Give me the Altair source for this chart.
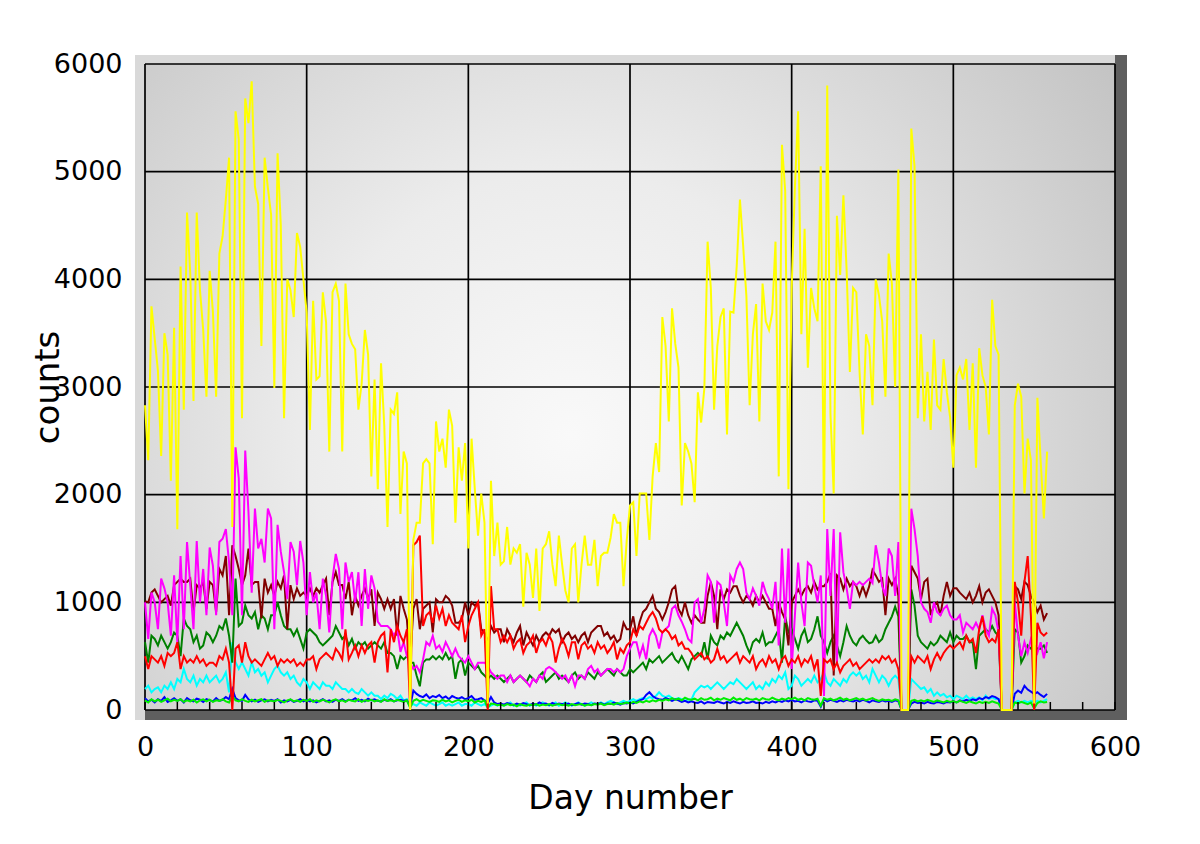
import altair as alt
import pandas as pd

# ---------------- data (one value every 2 days) ----------------
days = list(range(0, 560, 2))

yellow = [
    2830, 2320, 3750, 3450, 3150, 2360, 3500, 3300, 2130, 3550,
    1680, 4120, 2790, 4620, 4050, 2870, 4620, 3900, 3530, 2910,
    4080, 3700, 2910, 4240, 4400, 4740, 5130, 1700, 5560, 5300,
    2710, 5680, 5450, 5840, 4860, 4700, 3380, 5130, 4850, 4600,
    2990, 5170, 4500, 2710, 4000, 3900, 3650, 4430, 4300, 4000,
    3690, 2600, 3800, 3070, 3100, 3880, 3600, 2400, 3880, 3960,
    3800, 2400, 3960, 3490, 3400, 3350, 2790, 3030, 3530, 3300,
    2170, 3070, 2050, 3220, 2640, 1700, 2790, 2750, 2950, 1820,
    2400, 2290, 0, 1580, 1740, 1740, 2290, 2330, 2290, 1540,
    2680, 2400, 2520, 2250, 2790, 2640, 1740, 2440, 2130, 2480,
    1500, 2520, 2050, 1620, 2010, 1740, 60, 2130, 1430, 1740,
    1350, 1380, 1700, 1350, 1500, 1460, 1540, 960, 1460, 1350,
    1040, 1500, 920, 1500, 1540, 1660, 1350, 1150, 1620, 1350,
    1110, 1000, 1500, 1540, 1000, 1350, 1620, 1350, 1350, 1580,
    1150, 1430, 1460, 1460, 1600, 1820, 1740, 1740, 1150, 1580,
    1900, 1930, 1430, 2010, 2010, 2010, 1580, 2170, 2480, 2210,
    3650, 3380, 2680, 3730, 3400, 3180, 1900, 2480, 2400, 2290,
    1930, 2950, 2670, 2990, 4350, 3920, 2790, 3380, 3650, 3730,
    2560, 3700, 3690, 4120, 4740, 4310, 3840, 2830, 3490, 3770,
    2680, 3960, 3610, 3530, 3690, 4350, 2170, 5250, 4820, 2050,
    3920, 4860, 5560, 3490, 4470, 3180, 3920, 3730, 3610, 5050,
    1740, 5800, 2750, 2010, 4590, 4040, 4780, 4080, 3140, 3920,
    3880, 3140, 2560, 3490, 3380, 2830, 4000, 3850, 3610, 2910,
    4240, 3960, 3000, 5020, 0, 0, 0, 5400, 5050, 2710,
    3490, 2680, 3140, 2600, 3440, 2830, 2790, 3260, 2950, 2720,
    2250, 3110, 3180, 3070, 3260, 2600, 3220, 2250, 3360, 3110,
    3000, 2560, 3810, 3380, 3300, 0, 0, 0, 0, 2830,
    3030, 2910, 2010, 2520, 2320, 60, 2900, 2320, 1780, 2400,
]

magenta = [
    1000, 660, 1090, 1000, 750, 1220, 1130, 1000, 690, 1250,
    630, 1430, 750, 1560, 1160, 750, 1570, 1000, 1310, 880,
    1510, 1340, 880, 1560, 1590, 1680, 1370, 880, 2440, 2150,
    880, 2410, 1840, 1090, 1870, 1500, 1590, 1370, 1870, 1780,
    750, 1720, 1470, 1280, 1030, 1560, 1470, 1160, 1570, 1370,
    880, 1280, 1000, 1090, 750, 1220, 1060, 720, 1220, 1450,
    1310, 750, 1370, 1190, 1280, 1000, 1280, 780, 1310, 940,
    1250, 1130, 820, 780, 780, 780, 750, 690, 750, 540,
    630, 500, 440, 380, 410, 350, 470, 630, 600, 690,
    570, 600, 540, 630, 570, 500, 570, 500, 470, 440,
    500, 440, 380, 440, 440, 440, 410, 350, 320, 290,
    320, 320, 260, 320, 260, 290, 320, 290, 260, 220,
    290, 260, 320, 290, 380, 400, 380, 350, 320, 290,
    320, 260, 320, 220, 320, 320, 290, 380, 410, 350,
    380, 320, 350, 380, 380, 350, 380, 350, 380, 500,
    570, 630, 630, 500, 600, 470, 690, 750, 690, 570,
    720, 750, 780, 940, 970, 880, 820, 750, 660, 630,
    1000, 1030, 810, 940, 1250, 1190, 810, 1190, 1160, 1000,
    780, 1250, 1190, 1310, 1370, 1310, 1090, 1030, 1130, 1060,
    970, 1190, 1090, 1030, 940, 1190, 600, 1500, 810, 1500,
    380, 880, 1370, 1000, 780, 1370, 1340, 1150, 1000, 1250,
    130, 1680, 1060, 1680, 440, 1650, 1280, 1130, 940, 1190,
    1160, 1190, 1160, 1190, 1220, 1180, 1530, 1370, 1150, 1060,
    1500, 1430, 1060, 1560, 0, 0, 0, 1870, 1680, 1430,
    1000, 940, 910, 810, 1000, 910, 880, 940, 970, 880,
    840, 840, 880, 720, 810, 780, 750, 810, 750, 880,
    750, 690, 940, 880, 720, 0, 0, 0, 0, 1000,
    690, 500, 630, 530, 660, 600, 530, 630, 480, 630,
]

maroon = [
    1010, 1000, 1090, 1120, 1060, 1000, 1030, 1060, 970, 1160,
    1190, 1220, 1190, 1190, 1220, 910, 1160, 1130, 1190, 940,
    1190, 1160, 910, 1310, 1250, 1430, 880, 1530, 1430, 1310,
    1160, 1250, 1500, 1160, 1190, 1190, 850, 1220, 1090, 1160,
    1060, 1190, 1130, 1250, 750, 1160, 1030, 1130, 1060, 1090,
    1060, 1130, 1060, 1130, 1090, 1160, 1220, 880, 1190, 1280,
    1160, 1160, 1030, 1190, 880, 1060, 970, 1060, 1130, 1030,
    1120, 780, 1090, 1030, 940, 1030, 940, 1030, 690, 1060,
    940, 840, 440, 940, 1030, 750, 940, 970, 1000, 720,
    1030, 1000, 1000, 1060, 1030, 970, 810, 810, 840, 1000,
    880, 1000, 970, 1000, 750, 720, 630, 780, 720, 750,
    750, 630, 750, 690, 630, 720, 780, 600, 720, 660,
    600, 690, 630, 690, 720, 690, 750, 720, 750, 630,
    690, 720, 660, 690, 630, 690, 720, 630, 720, 750,
    780, 780, 690, 720, 660, 690, 630, 660, 810, 750,
    750, 870, 690, 820, 910, 940, 1000, 1060, 940, 910,
    840, 910, 1000, 1120, 1150, 940, 880, 1000, 880, 810,
    880, 840, 810, 810, 1060, 1190, 1060, 750, 1120, 1030,
    1120, 1090, 1150, 1150, 1060, 1000, 1060, 1030, 970, 1060,
    1000, 1060, 1000, 940, 940, 780, 1000, 910, 840, 600,
    1000, 1060, 1120, 1060, 1120, 1150, 1090, 1190, 1120, 1150,
    1150, 1190, 1270, 320, 1250, 1220, 1120, 1220, 1150, 1190,
    1150, 1060, 1150, 1060, 1150, 1300, 1250, 1190, 1220, 880,
    1220, 1160, 1220, 1060, 0, 0, 0, 1340, 1280, 1220,
    1030, 1190, 1220, 880, 970, 1000, 880, 1060, 1190, 1060,
    1130, 1130, 1090, 1060, 1030, 1090, 1000, 1060, 1150, 1000,
    1090, 1120, 1060, 1000, 880, 0, 0, 0, 0, 1150,
    1120, 1030, 1190, 1160, 1060, 1000, 910, 970, 840, 900,
]

green = [
    630, 440, 690, 660, 600, 690, 630, 570, 630, 720,
    690, 500, 850, 780, 750, 630, 690, 570, 600, 720,
    690, 630, 690, 780, 750, 850, 690, 440, 1220, 780,
    810, 970, 880, 850, 910, 750, 880, 850, 750, 880,
    880, 1000, 880, 780, 750, 750, 690, 750, 660, 570,
    720, 750, 720, 690, 630, 600, 630, 660, 690, 780,
    720, 660, 690, 600, 660, 570, 630, 600, 630, 570,
    600, 630, 600, 570, 630, 530, 530, 500, 380, 500,
    470, 500, 440, 440, 320, 220, 440, 470, 470, 500,
    470, 500, 470, 530, 470, 500, 290, 440, 470, 320,
    440, 410, 380, 410, 350, 320, 290, 320, 290, 320,
    290, 260, 290, 320, 260, 290, 320, 290, 260, 320,
    290, 260, 320, 350, 260, 290, 320, 350, 290, 320,
    290, 260, 320, 350, 290, 320, 290, 350, 320, 290,
    350, 320, 350, 380, 350, 320, 380, 350, 320, 320,
    380, 350, 380, 410, 440, 380, 470, 440, 470, 500,
    440, 470, 500, 530, 470, 440, 500, 440, 380, 470,
    500, 530, 500, 630, 470, 690, 630, 600, 690, 660,
    720, 690, 750, 810, 750, 690, 600, 530, 630, 660,
    630, 720, 600, 630, 630, 690, 750, 440, 870, 720,
    750, 660, 570, 690, 750, 630, 660, 750, 870, 690,
    630, 530, 630, 690, 600, 500, 630, 780, 690, 630,
    600, 660, 690, 650, 620, 630, 690, 630, 660, 750,
    810, 870, 960, 870, 0, 0, 0, 1120, 970, 690,
    630, 600, 570, 630, 600, 630, 690, 660, 630, 720,
    630, 690, 660, 660, 690, 630, 630, 380, 690, 720,
    750, 720, 780, 720, 690, 0, 0, 0, 0, 750,
    720, 440, 500, 600, 570, 600, 570, 570, 600, 530,
]

red = [
    500, 380, 500, 470, 440, 500, 410, 530, 500, 530,
    630, 380, 500, 440, 470, 440, 500, 440, 470, 410,
    440, 440, 410, 500, 470, 570, 440, 0, 570, 600,
    440, 630, 500, 440, 470, 440, 410, 470, 530, 470,
    500, 410, 470, 440, 470, 440, 470, 410, 440, 410,
    470, 470, 500, 380, 470, 500, 530, 500, 470, 570,
    530, 470, 750, 470, 530, 600, 500, 600, 530, 600,
    630, 440, 630, 690, 720, 350, 750, 630, 780, 690,
    630, 750, 0, 1530, 1560, 1620, 780, 880, 910, 810,
    970, 850, 940, 780, 880, 810, 780, 750, 880, 630,
    780, 880, 940, 1000, 690, 750, 0, 1150, 750, 750,
    630, 690, 630, 690, 570, 630, 660, 530, 600, 630,
    690, 530, 630, 660, 600, 690, 630, 440, 570, 660,
    600, 500, 630, 630, 470, 600, 630, 570, 600, 530,
    630, 570, 600, 530, 570, 630, 470, 570, 530, 600,
    630, 750, 690, 780, 750, 810, 870, 910, 850, 750,
    720, 750, 720, 660, 690, 600, 630, 570, 570, 530,
    470, 500, 530, 470, 500, 440, 470, 570, 470, 500,
    440, 470, 500, 530, 440, 500, 470, 440, 500, 380,
    440, 470, 410, 500, 440, 470, 380, 470, 500, 410,
    470, 440, 500, 410, 470, 440, 500, 380, 470, 130,
    470, 440, 470, 380, 440, 350, 410, 440, 470, 410,
    440, 380, 410, 440, 470, 440, 470, 440, 500, 470,
    500, 440, 470, 380, 0, 0, 0, 500, 440, 500,
    470, 440, 500, 380, 470, 530, 470, 530, 570, 600,
    570, 600, 630, 570, 690, 630, 660, 530, 750, 870,
    690, 630, 660, 630, 750, 0, 0, 0, 0, 1190,
    1000, 690, 1190, 1430, 870, 0, 810, 720, 690, 720,
]

cyan = [
    195, 226, 164, 195, 210, 164, 226, 195, 257, 195,
    288, 257, 381, 288, 257, 319, 226, 288, 257, 319,
    257, 288, 319, 257, 288, 350, 164, 628, 443, 381,
    443, 381, 319, 443, 350, 381, 319, 350, 257, 319,
    381, 412, 350, 319, 350, 288, 319, 257, 226, 288,
    257, 195, 257, 226, 195, 257, 226, 226, 195, 257,
    226, 195, 195, 164, 195, 164, 149, 195, 164, 133,
    164, 133, 133, 102, 133, 110, 150, 133, 102, 133,
    87, 102, 40, 55, 40, 70, 55, 40, 70, 55,
    40, 55, 70, 40, 55, 40, 55, 70, 40, 55,
    55, 40, 70, 55, 40, 55, 25, 40, 55, 40,
    55, 40, 55, 70, 40, 55, 40, 55, 70, 40,
    55, 40, 55, 70, 55, 40, 55, 70, 40, 55,
    70, 55, 40, 55, 70, 55, 40, 55, 70, 55,
    55, 70, 55, 70, 85, 70, 55, 70, 85, 70,
    85, 100, 85, 100, 110, 100, 120, 110, 130, 164,
    133, 120, 133, 110, 100, 110, 100, 85, 100, 95,
    164, 195, 226, 210, 226, 195, 226, 257, 226, 195,
    226, 257, 240, 288, 257, 226, 195, 226, 257, 195,
    226, 195, 257, 226, 288, 257, 319, 288, 350, 195,
    226, 319, 288, 226, 257, 288, 257, 319, 257, 288,
    350, 257, 226, 288, 257, 226, 288, 257, 319, 350,
    319, 350, 288, 319, 257, 381, 319, 257, 319, 288,
    226, 288, 319, 288, 0, 0, 0, 288, 257, 226,
    195, 210, 164, 195, 133, 164, 133, 149, 118, 133,
    102, 133, 118, 102, 133, 102, 118, 102, 118, 90,
    133, 102, 118, 102, 102, 0, 0, 0, 0, 70,
    85, 70, 85, 70, 85, 70, 85, 70, 85, 100,
]

blue = [
    110, 80, 95, 70, 100, 85, 120, 75, 90, 110,
    85, 100, 70, 110, 90, 80, 105, 95, 75, 100,
    90, 80, 110, 85, 95, 120, 100, 195, 110, 90,
    85, 140, 100, 80, 95, 75, 90, 100, 80, 95,
    85, 100, 70, 90, 80, 95, 75, 85, 100, 80,
    95, 80, 90, 70, 85, 100, 80, 90, 75, 95,
    85, 100, 80, 95, 90, 110, 85, 95, 80, 105,
    90, 100, 85, 80, 95, 85, 100, 80, 90, 95,
    85, 90, 30, 180, 150, 130, 120, 145, 110, 130,
    120, 140, 110, 125, 100, 130, 115, 105, 120, 100,
    110, 130, 95, 100, 110, 90, 60, 120, 70, 55,
    60, 50, 65, 55, 45, 60, 50, 65, 55, 45,
    60, 50, 70, 55, 60, 45, 65, 50, 60, 55,
    50, 60, 45, 55, 65, 50, 60, 55, 45, 60,
    55, 65, 50, 60, 55, 70, 60, 50, 65, 60,
    70, 60, 75, 90, 100, 140, 165, 130, 110, 100,
    95, 110, 100, 85, 100, 90, 75, 85, 70, 80,
    70, 65, 80, 60, 75, 70, 65, 80, 70, 60,
    75, 65, 80, 70, 60, 75, 65, 70, 80, 65,
    70, 60, 75, 65, 80, 70, 85, 75, 90, 80,
    95, 80, 85, 70, 90, 80, 75, 90, 85, 30,
    100, 80, 95, 85, 75, 90, 80, 95, 85, 80,
    90, 80, 95, 85, 70, 90, 80, 75, 90, 80,
    85, 75, 90, 80, 0, 0, 0, 60, 75, 65,
    70, 60, 75, 65, 60, 75, 70, 60, 75, 70,
    80, 70, 90, 80, 95, 85, 100, 90, 110, 100,
    120, 110, 130, 120, 100, 0, 0, 0, 0, 150,
    180, 160, 225, 190, 170, 150, 165, 140, 120, 150,
]

lime = [
    90, 70, 100, 80, 95, 75, 90, 105, 80, 95,
    85, 100, 75, 90, 80, 95, 70, 90, 100, 80,
    95, 75, 90, 85, 100, 80, 70, 130, 90, 80,
    100, 85, 75, 95, 80, 90, 100, 75, 90, 85,
    80, 95, 85, 70, 90, 100, 80, 90, 75, 95,
    85, 100, 75, 90, 80, 95, 85, 70, 90, 100,
    80, 90, 75, 95, 85, 80, 100, 75, 90, 85,
    95, 80, 90, 75, 100, 85, 90, 80, 95, 85,
    75, 90, 20, 85, 100, 80, 95, 85, 75, 90,
    85, 75, 95, 80, 90, 70, 85, 95, 75, 90,
    80, 95, 70, 85, 75, 90, 20, 60, 55, 45,
    50, 40, 55, 45, 50, 35, 55, 45, 40, 50,
    45, 55, 40, 50, 45, 55, 40, 50, 55, 45,
    50, 40, 55, 45, 50, 55, 40, 50, 45, 55,
    50, 60, 45, 55, 60, 50, 65, 55, 60, 70,
    60, 75, 65, 80, 70, 85, 75, 90, 80, 95,
    85, 100, 90, 110, 95, 105, 90, 115, 100, 95,
    105, 90, 110, 95, 100, 115, 90, 105, 95, 110,
    100, 90, 115, 95, 105, 90, 110, 100, 95, 105,
    90, 110, 100, 95, 115, 100, 90, 105, 95, 110,
    100, 115, 95, 105, 90, 110, 100, 95, 105, 40,
    110, 95, 105, 90, 100, 115, 95, 105, 90, 100,
    110, 95, 105, 90, 100, 110, 95, 85, 100, 90,
    95, 85, 100, 90, 0, 0, 0, 85, 95, 80,
    90, 80, 95, 85, 75, 90, 80, 70, 85, 75,
    80, 70, 85, 75, 65, 80, 70, 60, 75, 65,
    75, 65, 80, 70, 60, 0, 0, 0, 0, 70,
    60, 75, 65, 55, 70, 15, 65, 80, 70, 75,
]

x_ticks = list(range(0, 601, 100))
y_ticks = list(range(0, 6001, 1000))
minor_x_ticks = list(range(0, 601, 20))

# drawing order: first is at the bottom
series = [
    ("cyan", cyan, "#00ffff"),
    ("blue", blue, "#0000ff"),
    ("lime", lime, "#00ee00"),
    ("green", green, "#008000"),
    ("maroon", maroon, "#800000"),
    ("magenta", magenta, "#ff00ff"),
    ("red", red, "#ff0000"),
    ("yellow", yellow, "#ffff00"),
]

# ---------------- layout / style ----------------
W, H = 970, 646
FONT = "DejaVu Sans"
xscale = alt.Scale(domain=[0, 600], nice=False, zero=False)
yscale = alt.Scale(domain=[0, 6000], nice=False, zero=False)

x_axis = alt.Axis(
    values=x_ticks, format="d", grid=False, ticks=False, tickSize=0, domain=False,
    labelFont=FONT, labelFontSize=27, labelColor="black", labelPadding=24,
    labelFlush=False, labelOverlap=False,
    title="Day number", titleFont=FONT, titleFontSize=33, titleFontWeight="normal",
    titleColor="black", titleBaseline="alphabetic", titleY=98,
)
y_axis = alt.Axis(
    values=y_ticks, format="d", grid=False, ticks=False, tickSize=0, domain=False,
    labelFont=FONT, labelFontSize=27, labelColor="black", labelPadding=23,
    labelFlush=False, labelOverlap=False,
    title="counts", titleFont=FONT, titleFontSize=34, titleFontWeight="normal",
    titleColor="black", titleAngle=-90, titleAlign="center", titleBaseline="middle",
    titleX=-97, titleY=323,
)

X = lambda f: alt.X(f, type="quantitative", scale=xscale, axis=x_axis)
Y = lambda f: alt.Y(f, type="quantitative", scale=yscale, axis=y_axis)

one = pd.DataFrame({"k": [0]})

def band(x0, x1, y0, y1, color):
    return alt.Chart(one).mark_rect(color=color).encode(
        x=alt.value(x0), x2=alt.value(x1), y=alt.value(y0), y2=alt.value(y1)
    )

bevels = [
    band(-10, W, -9, 0, "#d9d9d9"),
    band(-10, 0, -9, H + 10, "#d9d9d9"),
    band(W, W + 12, -9, H + 10, "#5f5f5f"),
    band(0, W + 12, H, H + 10, "#5f5f5f"),
]

background = alt.Chart(one).mark_rect(
    fill=alt.RadialGradient(
        gradient="radial",
        stops=[
            alt.GradientStop(offset=0, color="#f9f9f9"),
            alt.GradientStop(offset=0.35, color="#ececec"),
            alt.GradientStop(offset=1, color="#b9b9b9"),
        ],
        x1=0.44, y1=0.55, r1=0, x2=0.44, y2=0.55, r2=0.78,
    )
).encode(x=alt.value(0), x2=alt.value(W), y=alt.value(0), y2=alt.value(H))

grid_x = alt.Chart(pd.DataFrame({"gx": x_ticks})).mark_rule(
    color="black", strokeWidth=1.7
).encode(x=X("gx"))

grid_y = alt.Chart(pd.DataFrame({"gy": y_ticks})).mark_rule(
    color="black", strokeWidth=1.7
).encode(y=Y("gy"))

minor = alt.Chart(pd.DataFrame({"mt": minor_x_ticks})).mark_rule(
    color="black", strokeWidth=1.5
).encode(x=X("mt"), y=alt.value(H), y2=alt.value(H - 8))

lines = []
for name, vals, col in series:
    d = pd.DataFrame({"day": days[: len(vals)], "count": vals[: len(days)]})
    lines.append(
        alt.Chart(d).mark_line(color=col, strokeWidth=2).encode(
            x=X("day"), y=Y("count")
        )
    )

chart = alt.layer(*bevels, background, grid_x, grid_y, *lines, minor).properties(
    width=W,
    height=H,
    padding={"left": 137, "top": 56, "right": 40, "bottom": 120},
    autosize=alt.AutoSizeParams(type="none"),
    background="white",
).configure_view(strokeWidth=0)

chart.save("out.html", embed_options={"renderer": "svg", "actions": False})
